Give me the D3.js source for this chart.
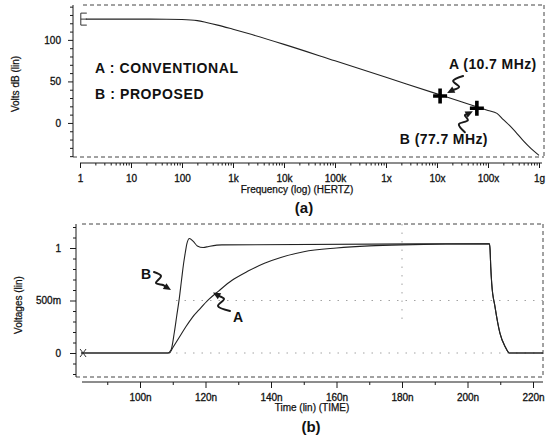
<!DOCTYPE html>
<html><head><meta charset="utf-8">
<script src="https://cdn.jsdelivr.net/npm/d3@7/dist/d3.min.js"></script>
<style>
html,body{margin:0;padding:0;background:#fff;}
svg{display:block;}
text{font-family:"Liberation Sans",Arial,sans-serif;fill:#111;}
</style></head>
<body>
<svg id="c" width="556" height="438"></svg>
<script>
// ---------- DATA ----------
// (a) frequency response: [frequency Hz, Volts dB]
const freqResponse = [
  [1.3,125],[10,125],[50,124.9],[100,124.6],[200,123.2],[300,121],[500,117.8],[1e3,112.8],
  [2e3,107.6],[1e4,94.6],[1e5,74.8],[1e6,54.9],[1e7,35],[3e7,25.5],
  [6e7,19.5],[1e8,15],[1.5e8,11.5],[2e8,4],[2.7e8,-3.5],[3.5e8,-11],[5e8,-22],
  [7e8,-31],[1e9,-39]
];
const freqTickValues = [1,10,100,1e3,1e4,1e5,1e6,1e7,1e8,1e9];
const freqTickLabels = ["1","10","100","1k","10k","100k","1x","10x","100x","1g"];
const dbTickValues = [0,50,100];
const markerNames = ["A (10.7 MHz)","B (77.7 MHz)"];
const markerFreqs = [1.15e7, 6.05e7];
const markerDb = [32.5, 17.7];
const legendLines = ["A : CONVENTIONAL","B : PROPOSED"];

// (b) transient: [time ns, volts]
const curveB = [
  [82,0],[108.5,0],[109.5,0.03],[110.5,0.2],[111.2,0.35],[112,0.52],[112.7,0.70],
  [113.3,0.85],[113.8,0.95],[114.3,1.04],[115.1,1.09],[116.2,1.065],[117.5,1.02],
  [119.3,1.005],[121,1.015],[125,1.03],[206.7,1.04],[206.9,0.98],[207.1,0.82],
  [207.4,0.66],[208.4,0.44],[209.9,0.19],[211.5,0.06],[212.8,0],[223,0]
];
const curveA = [
  [82,0],[109,0],[110,0.05],[112,0.15],[114,0.25],[116,0.34],[118,0.41],[121,0.51],
  [124,0.59],[128,0.69],[133,0.78],[138,0.855],[143,0.91],[150,0.965],[160,1.0],
  [170,1.02],[180,1.03],[206.7,1.04],[206.9,0.98],[207.1,0.82],[207.4,0.66],
  [208.4,0.44],[209.9,0.19],[211.5,0.06],[212.8,0],[223,0]
];
const timeTickValues = [100,120,140,160,180,200,220];
const timeTickLabels = ["100n","120n","140n","160n","180n","200n","220n"];
const voltTickValues = [0,0.5,1];
const voltTickLabels = ["0","500m","1"];
const gridVolts = [0,0.5];
const gridTimes = [180];

// ---------- DRAW ----------
const svg = d3.select("#c");
const ink = "#1a1a1a";

function dashedFrame(x0,y0,x1,y1,leftX){
  const g = svg.append("g").attr("fill","none").attr("stroke","#444").attr("stroke-width",1).attr("stroke-dasharray","4,3");
  g.append("line").attr("x1",x0).attr("y1",y0).attr("x2",x1).attr("y2",y0);
  g.append("line").attr("x1",x1).attr("y1",y0).attr("x2",x1).attr("y2",y1);
  g.append("line").attr("x1",leftX).attr("y1",y1).attr("x2",x1).attr("y2",y1);
}
function styleAxis(g){
  g.selectAll("path.domain").remove();
  g.selectAll("line").attr("stroke",ink);
  g.selectAll("text").attr("font-size",10).attr("fill","#111").attr("stroke","#111").attr("stroke-width",0.3).style("font-family","Liberation Sans, Arial, sans-serif");
}
function squiggle(points, tip){
  const line = d3.line().curve(d3.curveCatmullRom.alpha(0.5));
  const p = points[points.length-1];
  const ang = Math.atan2(tip[1]-p[1], tip[0]-p[0]);
  const L=7.5, W=3.4;
  const bx = tip[0]-L*Math.cos(ang), by = tip[1]-L*Math.sin(ang);
  const nx = -Math.sin(ang), ny = Math.cos(ang);
  svg.append("path").attr("d",line(points.concat([[bx,by]]))).attr("fill","none").attr("stroke",ink).attr("stroke-width",2).attr("stroke-linecap","round");
  svg.append("path").attr("d",`M${tip[0]},${tip[1]}L${bx+nx*W},${by+ny*W}L${bx-nx*W},${by-ny*W}Z`).attr("fill",ink);
}

// ===== Top chart (a) =====
const T = {axisX:73, left:83, right:544, top:5, bottom:157, xAxisY:163, xStart:80, xEnd:539};
const xTop = d3.scaleLog().domain([1,1e9]).range([T.xStart,T.xEnd]);
const yTop = d3.scaleLinear().domain([-41,142]).range([T.bottom,T.top]);

dashedFrame(T.left,T.top,T.right,T.bottom,T.axisX);

// y axis
svg.append("line").attr("x1",T.axisX).attr("y1",T.top).attr("x2",T.axisX).attr("y2",T.bottom).attr("stroke",ink);
const yMinorTop = d3.range(-40,141,10).filter(v=>!dbTickValues.includes(v));
svg.append("g").attr("transform",`translate(${T.axisX},0)`)
  .call(d3.axisLeft(yTop).tickValues(yMinorTop).tickSize(3).tickFormat(""))
  .call(styleAxis);
svg.append("g").attr("transform",`translate(${T.axisX},0)`)
  .call(d3.axisLeft(yTop).tickValues(dbTickValues).tickSize(5).tickPadding(7).tickFormat(d=>String(d)))
  .call(styleAxis);

// x axis
svg.append("line").attr("x1",T.xStart).attr("y1",T.xAxisY).attr("x2",T.right-2).attr("y2",T.xAxisY).attr("stroke",ink);
const minorFreq = [];
for(let e=0;e<9;e++) for(let m=2;m<10;m++) minorFreq.push(m*Math.pow(10,e));
svg.append("g").attr("transform",`translate(0,${T.xAxisY})`)
  .call(d3.axisBottom(xTop).tickValues(minorFreq).tickSize(2.5).tickFormat(""))
  .call(styleAxis);
svg.append("g").attr("transform",`translate(0,${T.xAxisY})`)
  .call(d3.axisBottom(xTop).tickValues(freqTickValues).tickSize(5).tickPadding(7).tickFormat((d,i)=>freqTickLabels[i]))
  .call(styleAxis);

svg.append("text").attr("x",297).attr("y",193).attr("text-anchor","middle").attr("font-size",10)
  .attr("stroke","#111").attr("stroke-width",0.25).text("Frequency (log) (HERTZ)");
svg.append("text").attr("x",304).attr("y",213).attr("text-anchor","middle").attr("font-size",15).attr("font-weight","bold").text("(a)");
svg.append("text").attr("transform",`translate(19,84) rotate(-90)`).attr("text-anchor","middle").attr("font-size",10)
  .attr("stroke","#111").attr("stroke-width",0.25).text("Volts dB (lin)");

// curve
const lineTop = d3.line().x(d=>xTop(d[0])).y(d=>yTop(d[1])).curve(d3.curveMonotoneX);
svg.append("path").datum(freqResponse).attr("d",lineTop).attr("fill","none").attr("stroke","#222").attr("stroke-width",1.1);

// start bracket marker
{
  const x0 = xTop(freqResponse[0][0]) - 5, y0 = yTop(freqResponse[0][1]);
  svg.append("path").attr("d",`M${x0+6},${y0-6}H${x0}V${y0+6}H${x0+6}M${x0},${y0}H${x0+6}`)
    .attr("fill","none").attr("stroke","#333").attr("stroke-width",1);
}

// legend
legendLines.forEach((t,i)=>{
  svg.append("text").attr("x",95).attr("y",72.5+i*26.5).attr("font-size",14).attr("font-weight","bold")
    .attr("letter-spacing",0.6).text(t);
});

// markers (crosses)
markerFreqs.forEach((f,i)=>{
  const cx = xTop(f), cy = yTop(markerDb[i]);
  svg.append("path").attr("d",`M${cx-7},${cy}H${cx+7}M${cx},${cy-7.5}V${cy+7.5}`)
    .attr("stroke","#000").attr("stroke-width",3.6).attr("fill","none");
});
{
  const ax = xTop(markerFreqs[0]), ay = yTop(markerDb[0]);
  svg.append("text").attr("x",ax+9).attr("y",ay-26.5).attr("font-size",14).attr("font-weight","bold").attr("letter-spacing",0.4).text(markerNames[0]);
  squiggle([[ax+23,ay-20],[ax+13,ay-15],[ax+19,ay-9],[ax+13,ay-6]],[ax+7,ay-3]);
  const bx = xTop(markerFreqs[1]), by = yTop(markerDb[1]);
  svg.append("text").attr("x",bx-77).attr("y",by+36).attr("font-size",14).attr("font-weight","bold").attr("letter-spacing",0.4).text(markerNames[1]);
  squiggle([[bx-12,by+24],[bx-18,by+16],[bx-9,by+12],[bx-12,by+7]],[bx-4,by+3]);
}

// ===== Bottom chart (b) =====
const B = {axisX:76, left:82, right:543, top:224, bottom:377, xAxisY:382, xStart:82};
const xBot = d3.scaleLinear().domain([100,220]).range([140,533]);
const yBot = d3.scaleLinear().domain([0,1]).range([353,248]);

// faint dotted grid
gridVolts.forEach(v=>{
  svg.append("line").attr("x1",B.axisX+100).attr("x2",B.right).attr("y1",yBot(v)).attr("y2",yBot(v))
    .attr("stroke","#999").attr("stroke-width",0.9).attr("stroke-dasharray","1.5,7");
});
gridTimes.forEach(t=>{
  svg.append("line").attr("x1",xBot(t)).attr("x2",xBot(t)).attr("y1",B.top).attr("y2",yBot(0.3))
    .attr("stroke","#999").attr("stroke-width",0.9).attr("stroke-dasharray","1.5,7");
});

dashedFrame(B.left,B.top,B.right,B.bottom,B.axisX);

svg.append("line").attr("x1",B.axisX).attr("y1",B.top).attr("x2",B.axisX).attr("y2",B.bottom).attr("stroke",ink);
const yMinorBot = d3.range(-0.2,1.21,0.1).map(v=>+v.toFixed(2)).filter(v=>!voltTickValues.includes(v));
svg.append("g").attr("transform",`translate(${B.axisX},0)`)
  .call(d3.axisLeft(yBot).tickValues(yMinorBot).tickSize(3).tickFormat(""))
  .call(styleAxis);
svg.append("g").attr("transform",`translate(${B.axisX},0)`)
  .call(d3.axisLeft(yBot).tickValues(voltTickValues).tickSize(6).tickPadding(9).tickFormat((d,i)=>voltTickLabels[i]))
  .call(styleAxis);

svg.append("line").attr("x1",B.xStart).attr("y1",B.xAxisY).attr("x2",B.right).attr("y2",B.xAxisY).attr("stroke",ink);
const minorTimes = d3.range(90,221,20);
svg.append("g").attr("transform",`translate(0,${B.xAxisY})`)
  .call(d3.axisBottom(xBot).tickValues(minorTimes).tickSize(3).tickFormat(""))
  .call(styleAxis);
svg.append("g").attr("transform",`translate(0,${B.xAxisY})`)
  .call(d3.axisBottom(xBot).tickValues(timeTickValues).tickSize(6).tickPadding(5.5).tickFormat((d,i)=>timeTickLabels[i]))
  .call(styleAxis);

svg.append("text").attr("x",312).attr("y",411).attr("text-anchor","middle").attr("font-size",10)
  .attr("stroke","#111").attr("stroke-width",0.25).text("Time (lin) (TIME)");
svg.append("text").attr("x",311).attr("y",432).attr("text-anchor","middle").attr("font-size",15).attr("font-weight","bold").text("(b)");
svg.append("text").attr("transform",`translate(22,305) rotate(-90)`).attr("text-anchor","middle").attr("font-size",10)
  .attr("stroke","#111").attr("stroke-width",0.25).text("Voltages (lin)");

const lineBot = d3.line().x(d=>xBot(d[0])).y(d=>yBot(d[1])).curve(d3.curveMonotoneX);
svg.append("path").datum(curveA).attr("d",lineBot).attr("fill","none").attr("stroke","#222").attr("stroke-width",1.1);
svg.append("path").datum(curveB).attr("d",lineBot).attr("fill","none").attr("stroke","#222").attr("stroke-width",1.1);

// start "x" marker
{
  const mx = xBot(curveA[0][0]) + 2, my = yBot(0);
  svg.append("path").attr("d",`M${mx-3},${my-4}L${mx+3},${my+4}M${mx+3},${my-4}L${mx-3},${my+4}`)
    .attr("stroke","#333").attr("stroke-width",1).attr("fill","none");
}

// curve labels
svg.append("text").attr("x",141).attr("y",279).attr("font-size",14).attr("font-weight","bold").text("B");
squiggle([[154,272],[161,276],[156,283],[163,285]],[171,290]);
svg.append("text").attr("x",233).attr("y",322).attr("font-size",14).attr("font-weight","bold").text("A");
squiggle([[230,311],[218,306],[224,299],[219,296]],[213,292.5]);
</script>
</body></html>
